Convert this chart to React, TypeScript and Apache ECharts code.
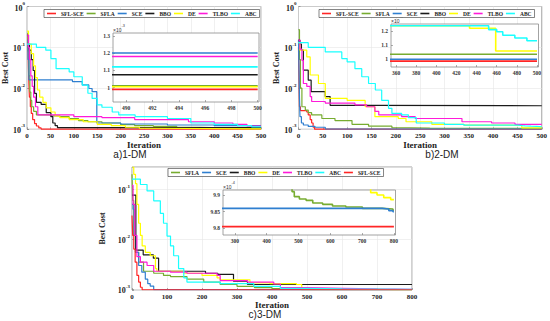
import React, { useEffect, useRef } from "react";
import * as echarts from "echarts";

type Pt = [number, number];

const SERIF = "'Liberation Serif', 'Times New Roman', serif";
const SANS = "'Liberation Sans', Arial, sans-serif";

const NAMES = ["SFL-SCE", "SFLA", "SCE", "BBO", "DE", "TLBO", "ABC"];
const NAMES_C = ["SFLA", "SCE", "BBO", "DE", "TLBO", "ABC", "SFL-SCE"];
const COLORS: Record<string, string> = {
  "SFL-SCE": "#ff2626",
  SFLA: "#77ac30",
  SCE: "#2f7fd0",
  BBO: "#1a1a1a",
  DE: "#ffff00",
  TLBO: "#ff1ad9",
  ABC: "#1affff",
};

// ---------- a) 1-DM ----------
const a_SFLSCE: Pt[] = [[0, 0.2], [2, 0.1], [3, 0.03], [4, 0.012], [5, 0.006], [7, 0.0035], [9, 0.0024], [12, 0.0017], [16, 0.00135], [20, 0.00118], [25, 0.00106], [30, 0.00099], [500, 0.00099]];
const a_SFLA: Pt[] = [[0, 0.22], [2, 0.08], [4, 0.02], [6, 0.008], [8, 0.005], [10, 0.0035], [14, 0.0027], [20, 0.0022], [50, 0.0021], [70, 0.002], [90, 0.0018], [110, 0.0016], [130, 0.0015], [160, 0.0014], [200, 0.00128], [230, 0.0012], [270, 0.00115], [320, 0.0011], [370, 0.00106], [420, 0.00103], [470, 0.00101], [500, 0.00101]];
const a_SCE: Pt[] = [[0, 0.15], [2, 0.05], [4, 0.016], [97, 0.0145], [118, 0.012], [132, 0.0098], [139, 0.0082], [149, 0.0014], [200, 0.00132], [300, 0.00125], [400, 0.0012], [500, 0.0012]];
const a_BBO: Pt[] = [[0, 0.2], [3, 0.12], [5, 0.085], [9, 0.05], [13, 0.027], [16, 0.0074], [20, 0.0045], [30, 0.004], [41, 0.0025], [51, 0.002], [55, 0.0014], [60, 0.0012], [65, 0.001075], [500, 0.001075]];
const a_DE: Pt[] = [[0, 0.25], [3, 0.12], [9, 0.07], [14, 0.035], [18, 0.018], [22, 0.009], [27, 0.006], [34, 0.0045], [41, 0.0033], [51, 0.0026], [60, 0.0021], [70, 0.0019], [90, 0.0017], [120, 0.0015], [150, 0.0013], [180, 0.0012], [210, 0.0011], [240, 0.00104], [270, 0.001005], [500, 0.001005]];
const a_TLBO: Pt[] = [[0, 0.2], [3, 0.1], [5, 0.05], [8, 0.02], [11, 0.011], [14, 0.006], [18, 0.0035], [23, 0.0022], [100, 0.002], [160, 0.0019], [230, 0.0017], [345, 0.0015], [400, 0.0014], [440, 0.0013], [470, 0.00118], [500, 0.00118]];
const a_ABC: Pt[] = [[0, 0.12], [20, 0.1], [40, 0.085], [51, 0.053], [62, 0.03], [90, 0.025], [100, 0.019], [118, 0.0118], [130, 0.0075], [139, 0.0056], [150, 0.0039], [160, 0.0034], [182, 0.0026], [196, 0.0022], [231, 0.002], [300, 0.0018], [350, 0.0014], [400, 0.0013], [450, 0.0012], [480, 0.00112], [500, 0.00112]];

// ---------- b) 2-DM ----------
const b_SFLSCE: Pt[] = [[0, 0.1], [1, 0.02], [2, 0.0035], [4, 0.0028], [17, 0.0026], [20, 0.0022], [24, 0.0017], [27, 0.0014], [30, 0.0011], [33, 0.000985], [500, 0.000985]];
const b_SFLA: Pt[] = [[0, 0.27], [2, 0.05], [4, 0.01], [7, 0.0035], [14, 0.0029], [20, 0.0025], [27, 0.0022], [48, 0.0018], [75, 0.0016], [110, 0.0013], [144, 0.00117], [192, 0.00107], [230, 0.00105], [270, 0.001034], [500, 0.001034]];
const b_SCE: Pt[] = [[0, 0.15], [1, 0.03], [2, 0.006], [3, 0.002], [6, 0.0014], [10, 0.00125], [20, 0.00115], [34, 0.0011], [55, 0.000998], [500, 0.000998]];
const b_BBO: Pt[] = [[0, 0.15], [3, 0.12], [6, 0.085], [10, 0.0275], [20, 0.0157], [26, 0.0082], [55, 0.0062], [65, 0.0038], [150, 0.0037], [500, 0.0036]];
const b_DE: Pt[] = [[0, 0.13], [3, 0.085], [17, 0.058], [24, 0.021], [41, 0.013], [55, 0.0056], [100, 0.005], [137, 0.0035], [157, 0.002], [205, 0.0018], [221, 0.0015], [274, 0.0013], [340, 0.001237], [433, 0.00122], [459, 0.001057], [500, 0.001057]];
const b_TLBO: Pt[] = [[0, 0.15], [3, 0.09], [7, 0.048], [10, 0.013], [17, 0.011], [24, 0.0062], [27, 0.0047], [55, 0.0043], [116, 0.0039], [140, 0.0035], [157, 0.0027], [165, 0.0022], [212, 0.002], [240, 0.0018], [336, 0.0015], [397, 0.0014], [445, 0.0013], [500, 0.0013]];
const b_ABC: Pt[] = [[0, 0.13], [20, 0.1], [55, 0.077], [89, 0.053], [100, 0.044], [116, 0.03], [130, 0.019], [144, 0.013], [158, 0.009], [171, 0.005], [185, 0.0032], [192, 0.0024], [212, 0.0022], [226, 0.0019], [242, 0.0014], [300, 0.0013], [340, 0.001237], [452, 0.00121], [460, 0.001195], [466, 0.00117], [478, 0.00115], [490, 0.00113], [500, 0.00113]];

// ---------- c) 3-DM ----------
const c_SFLSCE: Pt[] = [[0, 0.03], [2, 0.012], [5, 0.0064], [9, 0.0035], [14, 0.0019], [19, 0.0014], [24, 0.0011], [29, 0.0009805], [800, 0.0009805]];
const c_SFLA: Pt[] = [[0, 0.2], [2, 0.06], [5, 0.012], [10, 0.0055], [19, 0.0035], [33, 0.0023], [62, 0.0021], [90, 0.0019], [110, 0.0018], [157, 0.0016], [205, 0.0014], [252, 0.00125], [300, 0.00115], [350, 0.00108], [400, 0.00103], [450, 0.001], [480, 0.000991], [487, 0.0009895], [503, 0.0009888], [524, 0.0009884], [545, 0.0009876], [576, 0.0009872], [607, 0.0009867], [649, 0.0009864], [701, 0.000986], [763, 0.0009858], [797, 0.0009854], [800, 0.0009854]];
const c_SCE: Pt[] = [[0, 0.05], [3, 0.04], [6, 0.012], [10, 0.0055], [19, 0.003], [28, 0.0022], [38, 0.0016], [45, 0.0013], [52, 0.00116], [62, 0.000986], [742, 0.000986], [763, 0.0009858], [784, 0.0009853], [797, 0.000985], [800, 0.000985]];
const c_BBO: Pt[] = [[0, 0.077], [11, 0.0061], [32, 0.0049], [61, 0.0042], [76, 0.0023], [210, 0.0021], [245, 0.002], [290, 0.00145], [330, 0.00125], [800, 0.00122]];
const c_DE: Pt[] = [[0, 0.28], [5, 0.2], [10, 0.13], [14, 0.05], [19, 0.021], [24, 0.012], [29, 0.0074], [38, 0.0055], [52, 0.0047], [67, 0.0026], [71, 0.0023], [148, 0.0021], [200, 0.0019], [243, 0.0017], [252, 0.00155], [337, 0.00135], [394, 0.0013], [470, 0.00125], [485, 0.00103], [600, 0.001], [700, 0.000993], [727, 0.0009907], [747, 0.00099], [768, 0.0009892], [790, 0.0009886], [800, 0.0009886]];
const c_TLBO: Pt[] = [[0, 0.12], [3, 0.05], [8, 0.012], [14, 0.0045], [24, 0.0035], [43, 0.003], [62, 0.0023], [110, 0.0022], [157, 0.0021], [243, 0.0019], [252, 0.0015], [330, 0.0014], [405, 0.00128], [424, 0.00108], [500, 0.00105], [600, 0.00102], [700, 0.001], [800, 0.000995]];
const c_ABC: Pt[] = [[0, 0.16], [24, 0.125], [43, 0.093], [62, 0.059], [81, 0.033], [90, 0.021], [100, 0.0116], [110, 0.0074], [119, 0.0047], [133, 0.0026], [148, 0.0017], [157, 0.0014], [252, 0.0013], [348, 0.00115], [424, 0.00105], [500, 0.00102], [600, 0.001], [800, 0.000997]];

const PANEL_DATA: Record<string, Pt[]>[] = [
  { "SFL-SCE": a_SFLSCE, SFLA: a_SFLA, SCE: a_SCE, BBO: a_BBO, DE: a_DE, TLBO: a_TLBO, ABC: a_ABC },
  { "SFL-SCE": b_SFLSCE, SFLA: b_SFLA, SCE: b_SCE, BBO: b_BBO, DE: b_DE, TLBO: b_TLBO, ABC: b_ABC },
  { "SFL-SCE": c_SFLSCE, SFLA: c_SFLA, SCE: c_SCE, BBO: c_BBO, DE: c_DE, TLBO: c_TLBO, ABC: c_ABC },
];
const PANEL_ORDER = [NAMES, NAMES, NAMES_C];
const CAPTIONS = ["a)1-DM", "b)2-DM", "c)3-DM"];

// axis ranges / tick values
const MAIN_X_MAX = [500, 500, 800];
const MAIN_X_STEP = [50, 50, 100];
const MAIN_Y_MIN = [0.00098, 0.00098, 0.00097];
const MAIN_Y_MAX = [1, 1, 0.28];
const INSET_X_MIN = [489, 355, 263];
const INSET_X_MAX = [500.1, 501.5, 805];
const INSET_X_TICKS = [
  [490, 492, 494, 496, 498, 500],
  [360, 380, 400, 420, 440, 460, 480, 500],
  [300, 400, 500, 600, 700, 800],
];
const INSET_Y_MIN = [0.000917, 0.000943, 0.000978];
const INSET_Y_MAX = [0.001316, 0.00125, 0.0009915];
const INSET_Y_TICKS = [
  [0.001, 0.0011, 0.0012, 0.0013],
  [0.001, 0.0011, 0.0012],
  [0.00098, 0.000985, 0.00099],
];
const INSET_EXP = [-3, -3, -4];

// layout
const MAIN_GRIDS = [
  { left: 24, top: 6.5, width: 237, height: 122.8 },
  { left: 298.5, top: 6.5, width: 244, height: 122.8 },
  { left: 132, top: 167, width: 280, height: 123 },
];
const INSET_GRIDS = [
  { left: 113, top: 33, width: 146, height: 69 },
  { left: 391, top: 24, width: 147.5, height: 43 },
  { left: 223, top: 190, width: 172.5, height: 45 },
];
const LEGEND_POS = [
  { left: 44, top: 9.5 },
  { left: 319, top: 9.5 },
  { left: 168, top: 168.5 },
];
const CAPTION_POS = [
  [130, 154.5],
  [442, 154.5],
  [265, 314.5],
];
const YNAME_GAP = [14, 13.5, 20];
const XNAME_GAP = [8, 8, 6];

function logLabel(v: number) {
  const l = Math.log10(v);
  const e = Math.round(l);
  if (Math.abs(l - e) > 1e-6) return "";
  return `{b|10}{s|${e}}`;
}
const logRich = {
  b: { fontFamily: SERIF, fontWeight: "bold", fontSize: 8, color: "#222", verticalAlign: "bottom", lineHeight: 11 },
  s: { fontFamily: SERIF, fontWeight: "bold", fontSize: 5, color: "#222", verticalAlign: "top", lineHeight: 11 },
};

function buildOption() {
  const grid: any[] = [];
  const xAxis: any[] = [];
  const yAxis: any[] = [];
  const series: any[] = [];
  const legend: any[] = [];

  for (let p = 0; p < 3; p++) {
    grid.push({ ...MAIN_GRIDS[p], show: true, backgroundColor: "#fff", borderColor: "#8c8c8c", borderWidth: 0.8, z: 0 });
  }
  for (let p = 0; p < 3; p++) {
    grid.push({ ...INSET_GRIDS[p], show: true, backgroundColor: "#fff", borderColor: "#8c8c8c", borderWidth: 0.8, z: 10 });
  }

  for (let p = 0; p < 3; p++) {
    xAxis.push({
      gridIndex: p,
      type: "value",
      min: 0,
      max: MAIN_X_MAX[p],
      interval: MAIN_X_STEP[p],
      z: 1,
      axisLine: { show: false },
      axisTick: { inside: true, length: 2, lineStyle: { color: "#777", width: 0.6 } },
      axisLabel: { fontFamily: SERIF, fontWeight: "bold", fontSize: 7, color: "#222", margin: 3 },
      splitLine: { show: true, lineStyle: { color: "#e6e6e6", width: 0.6 } },
      name: "Iteration",
      nameLocation: "middle",
      nameGap: XNAME_GAP[p],
      nameTextStyle: { fontFamily: SERIF, fontWeight: "bold", fontSize: 9, color: "#222" },
    });
    yAxis.push({
      gridIndex: p,
      type: "log",
      logBase: 10,
      min: MAIN_Y_MIN[p],
      max: MAIN_Y_MAX[p],
      z: 1,
      axisLine: { show: false },
      axisTick: { inside: true, length: 2, lineStyle: { color: "#777", width: 0.6 } },
      axisLabel: { formatter: logLabel, rich: logRich, margin: 2 },
      splitLine: { show: true, lineStyle: { color: "#e6e6e6", width: 0.6 } },
      name: "Best Cost",
      nameLocation: "middle",
      nameRotate: 90,
      nameGap: YNAME_GAP[p],
      nameTextStyle: { fontFamily: SERIF, fontWeight: "bold", fontSize: 8, color: "#222" },
    });
  }
  for (let p = 0; p < 3; p++) {
    const exp = INSET_EXP[p];
    const scale = Math.pow(10, -exp);
    xAxis.push({
      gridIndex: 3 + p,
      type: "value",
      min: INSET_X_MIN[p],
      max: INSET_X_MAX[p],
      z: 11,
      axisLine: { show: false },
      axisTick: { inside: true, length: 2, customValues: INSET_X_TICKS[p], lineStyle: { color: "#777", width: 0.6 } },
      axisLabel: { customValues: INSET_X_TICKS[p], fontFamily: SERIF, fontWeight: "bold", fontSize: 5.5, color: "#333", margin: 3 },
      splitLine: { show: false },
    });
    yAxis.push({
      gridIndex: 3 + p,
      type: "value",
      min: INSET_Y_MIN[p],
      max: INSET_Y_MAX[p],
      z: 11,
      axisLine: { show: false },
      axisTick: { inside: true, length: 2, customValues: INSET_Y_TICKS[p], lineStyle: { color: "#777", width: 0.6 } },
      axisLabel: {
        customValues: INSET_Y_TICKS[p],
        formatter: (v: number) => String(+(v * scale).toFixed(2)),
        fontFamily: SERIF,
        fontWeight: "bold",
        fontSize: 5.5,
        color: "#333",
        margin: 3,
      },
      splitLine: { show: false },
      name: `{t|×10}{e|${exp}}`,
      nameLocation: "end",
      nameGap: 1,
      nameTextStyle: {
        align: "left",
        rich: {
          t: { fontFamily: SANS, fontSize: 5, color: "#333", verticalAlign: "bottom", lineHeight: 8 },
          e: { fontFamily: SANS, fontSize: 3.8, color: "#333", verticalAlign: "top", lineHeight: 8 },
        },
      },
    });
  }

  for (let p = 0; p < 3; p++) {
    const order = PANEL_ORDER[p];
    for (const name of order) {
      const data = PANEL_DATA[p][name];
      series.push({
        type: "line",
        name,
        data,
        xAxisIndex: p,
        yAxisIndex: p,
        step: "end",
        symbol: "none",
        showSymbol: false,
        clip: true,
        silent: true,
        z: 3,
        lineStyle: { color: COLORS[name], width: 1.2 },
        itemStyle: { color: COLORS[name] },
        emphasis: { disabled: true },
      });
    }
    for (const name of order) {
      const data = PANEL_DATA[p][name];
      series.push({
        type: "line",
        name,
        data,
        xAxisIndex: 3 + p,
        yAxisIndex: 3 + p,
        step: "end",
        symbol: "none",
        showSymbol: false,
        clip: true,
        silent: true,
        z: 12,
        lineStyle: { color: COLORS[name], width: 1.6 },
        itemStyle: { color: COLORS[name] },
        emphasis: { disabled: true },
      });
    }
    legend.push({
      ...LEGEND_POS[p],
      data: order,
      orient: "horizontal",
      icon: "rect",
      itemWidth: 9,
      itemHeight: 1.6,
      itemGap: 3,
      padding: [1, 3, 1, 3],
      backgroundColor: "#fff",
      borderColor: "#333",
      borderWidth: 0.6,
      borderRadius: 0,
      selectedMode: false,
      z: 20,
      textStyle: { fontFamily: SERIF, fontWeight: "bold", fontSize: 5.5, color: "#222" },
    });
  }

  const graphic = CAPTIONS.map((t, i) => ({
    type: "text",
    x: CAPTION_POS[i][0],
    y: CAPTION_POS[i][1],
    z: 30,
    style: { text: t, fontFamily: SANS, fontSize: 10, fill: "#222", align: "center", verticalAlign: "middle" },
  }));

  return {
    animation: false,
    backgroundColor: "#fff",
    grid,
    xAxis,
    yAxis,
    series,
    legend,
    graphic,
  };
}

export default function App() {
  const ref = useRef<HTMLDivElement>(null);
  useEffect(() => {
    const chart = echarts.init(ref.current!, null, { renderer: "svg" });
    chart.setOption(buildOption() as any);
    return () => chart.dispose();
  }, []);
  return (
    <div
      ref={ref}
      style={{ position: "fixed", left: 0, top: 0, width: 550, height: 321, background: "#fff" }}
    />
  );
}
